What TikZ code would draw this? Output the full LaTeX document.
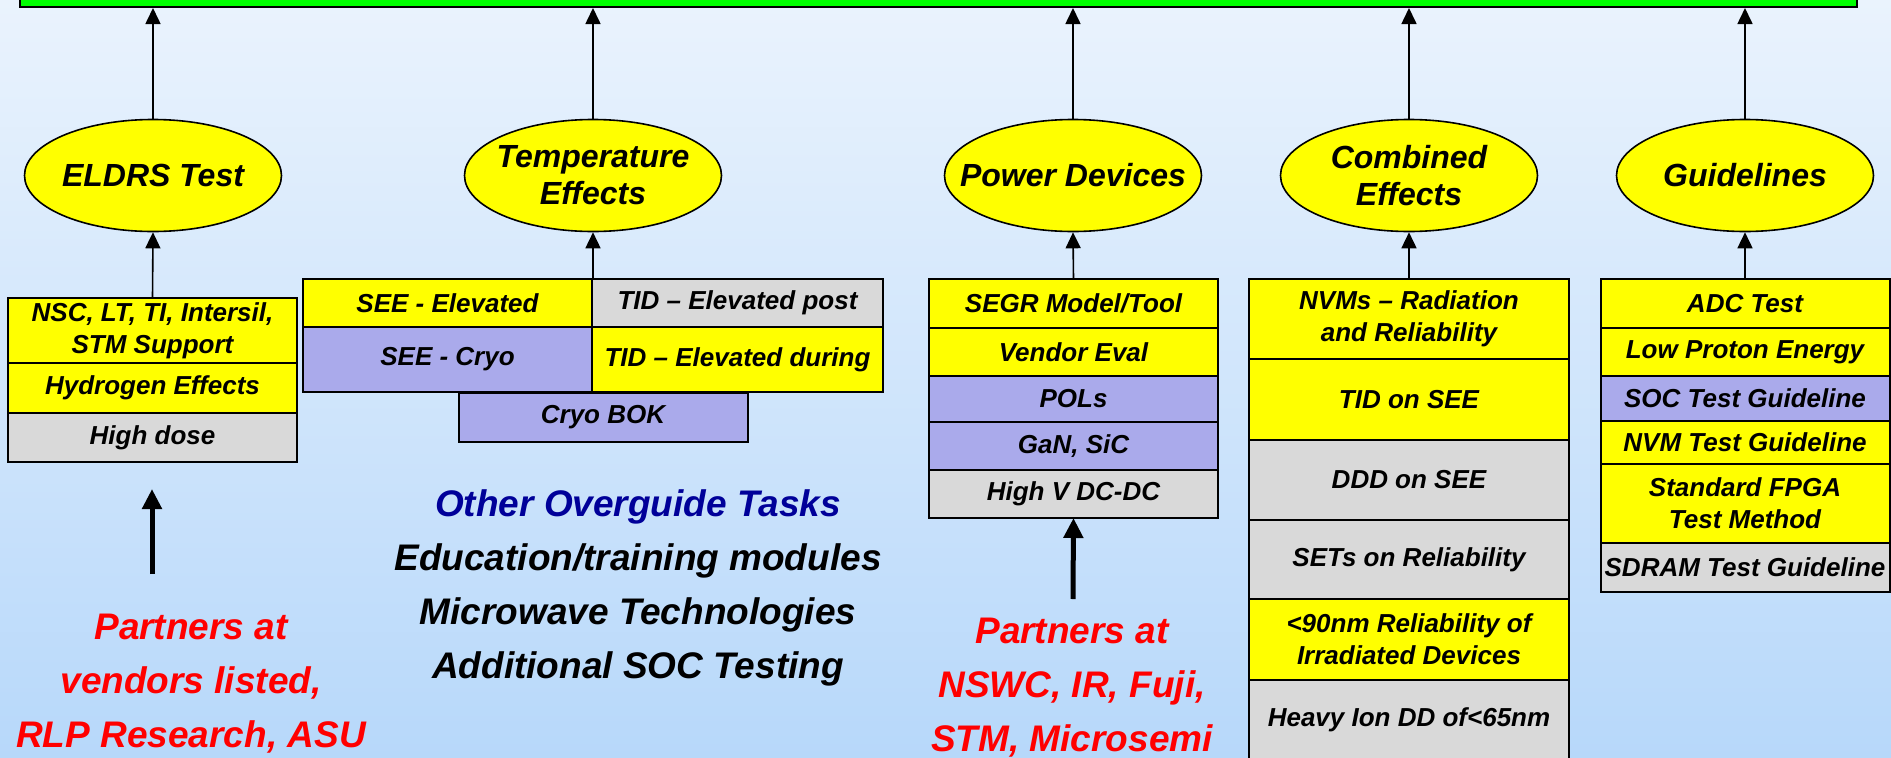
\documentclass[tikz,border=0pt]{standalone}
\usepackage{fontspec}
\setmainfont{Liberation Sans}
\usepackage{tikz}
\usetikzlibrary{arrows.meta}
\usetikzlibrary{shapes.geometric}
\usetikzlibrary{positioning}

\definecolor{barGreen}{RGB}{0,255,0}
\definecolor{boxYellow}{RGB}{255,255,0}
\definecolor{boxGray}{RGB}{217,217,217}
\definecolor{boxPurple}{RGB}{170,170,235}
\definecolor{bgTop}{RGB}{234,243,253}
\definecolor{bgBottom}{RGB}{183,216,250}
\definecolor{taskBlue}{RGB}{0,0,153}

\begin{document}
\begin{tikzpicture}[x=1pt,y=-1pt,
          topic/.style={ellipse,draw,line width=1.6pt,fill=boxYellow,minimum width=257pt,minimum height=112pt,inner xsep=-30pt,inner ysep=-10pt,align=center,font=\fontsize{32}{37}\selectfont\bfseries\itshape},
          item/.style={rectangle,draw,line width=2pt,outer sep=0pt,inner sep=0pt,minimum width=289pt,align=center,font=\fontsize{26}{32}\selectfont\bfseries\itshape},
          yel/.style={item,fill=boxYellow},
          gry/.style={item,fill=boxGray},
          pur/.style={item,fill=boxPurple},
          wide/.style={minimum width=320pt},
          up/.style={-{Triangle[length=16pt,width=15pt]},line width=1.6pt},
          bigup/.style={-{Triangle[length=20pt,width=19pt]},line width=5pt},
          note/.style={align=center,font=\fontsize{37}{54}\selectfont\bfseries\itshape}]
          \useasboundingbox (0,0) rectangle (1891,758);
          \shade[top color=bgTop,bottom color=bgBottom] (0,0) rectangle (1891,758);
          \node[draw,line width=2pt,fill=barGreen,minimum width=1837pt,minimum height=40pt,inner sep=0pt,anchor=south west] (goal) at (19,8) {};

          \node[topic] (eldrs) at (153,175.5) {ELDRS Test};
          \node[topic] (temp) at (593,175.5) {Temperature\\Effects};
          \node[topic] (power) at (1073,175.5) {Power Devices};
          \node[topic] (comb) at (1409,175.5) {Combined\\Effects};
          \node[topic] (guide) at (1745,175.5) {Guidelines};
          \foreach \t in {eldrs,temp,power,comb,guide}
            \draw[up] (\t.north) -- (goal.south -| \t.north);

          \node[yel,minimum height=65pt,anchor=north] (nsc) at (152.5,298) {NSC, LT, TI, Intersil,\\STM Support};
          \node[yel,minimum height=50pt,below=0pt of nsc] (hydro) {Hydrogen Effects};
          \node[gry,minimum height=49pt,below=0pt of hydro] (hidose) {High dose};
          \draw[up] (nsc.north) -- (eldrs.south);

          \node[yel,minimum height=48pt,anchor=north east] (seehot) at (592,279) {SEE - Elevated};
          \node[gry,minimum width=291pt,minimum height=48pt,right=0pt of seehot] (tidpost) {TID – Elevated post};
          \node[pur,minimum height=65pt,below=0pt of seehot] (seecold) {SEE - Cryo};
          \node[yel,minimum width=291pt,minimum height=65pt,below=0pt of tidpost] (tidduring) {TID – Elevated during};
          \node[pur,minimum height=49pt,anchor=north] (cryobok) at (603,393) {Cryo BOK};
          \draw[up] (temp.south |- seehot.north) -- (temp.south);

          \node[yel,minimum height=49pt,anchor=north] (segr) at (1073.5,279) {SEGR Model/Tool};
          \node[yel,minimum height=48pt,below=0pt of segr] (vendor) {Vendor Eval};
          \node[pur,minimum height=46pt,below=0pt of vendor] (pols) {POLs};
          \node[pur,minimum height=48pt,below=0pt of pols] (gan) {GaN, SiC};
          \node[gry,minimum height=48pt,below=0pt of gan] (highv) {High V DC-DC};
          \draw[up] (segr.north) -- (power.south);

          \node[yel,wide,minimum height=80pt,anchor=north] (nvms) at (1409,279) {NVMs – Radiation\\and Reliability};
          \node[yel,wide,minimum height=81pt,below=0pt of nvms] (tidsee) {TID on SEE};
          \node[gry,wide,minimum height=80pt,below=0pt of tidsee] (dddsee) {DDD on SEE};
          \node[gry,wide,minimum height=79pt,below=0pt of dddsee] (sets) {SETs on Reliability};
          \node[yel,wide,minimum height=81pt,below=0pt of sets] (small) {<90nm Reliability of\\Irradiated Devices};
          \node[gry,wide,minimum height=80pt,below=0pt of small] (heavy) {Heavy Ion DD of<65nm};
          \draw[up] (nvms.north) -- (comb.south);

          \node[yel,minimum height=49pt,anchor=north] (adc) at (1745,279) {ADC Test};
          \node[yel,minimum height=48pt,below=0pt of adc] (lowp) {Low Proton Energy};
          \node[pur,minimum height=45pt,below=0pt of lowp] (socg) {SOC Test Guideline};
          \node[yel,minimum height=43pt,below=0pt of socg] (nvmg) {NVM Test Guideline};
          \node[yel,minimum height=79pt,below=0pt of nvmg] (fpga) {Standard FPGA\\Test Method};
          \node[gry,minimum height=49pt,below=0pt of fpga] (sdram) {SDRAM Test Guideline};
          \draw[up] (adc.north) -- (guide.south);

          \coordinate (eldrsfoot) at (152,574);
          \coordinate (eldrstip) at (152,489);
          \draw[bigup] (eldrsfoot) -- (eldrstip);
          \node[note,text=red] (eldrsnote) at (191,684) {Partners at\\vendors listed,\\RLP Research, ASU};

          \node[note] (tasks) at (638,588) {\textcolor{taskBlue}{Other Overguide Tasks}\\Education/training modules\\Microwave Technologies\\Additional SOC Testing};

          \coordinate (powerfoot) at (1073,599);
          \draw[bigup] (powerfoot) -- (highv.south);
          \node[note,text=red] (powernote) at (1072,688) {Partners at\\NSWC, IR, Fuji,\\STM, Microsemi};
        \end{tikzpicture}
\end{document}
